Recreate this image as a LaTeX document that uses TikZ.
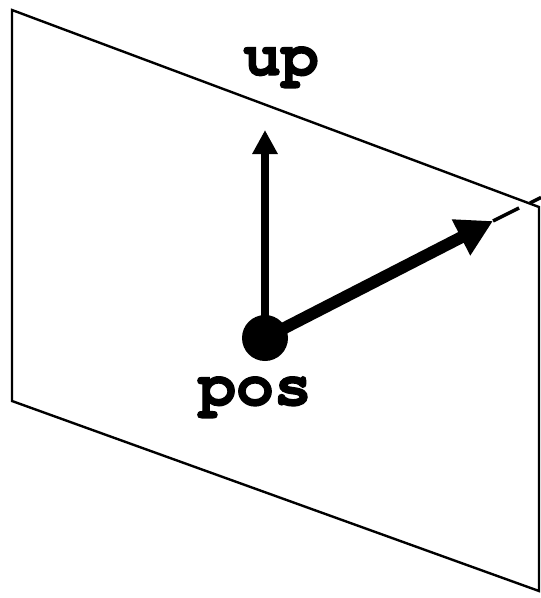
\documentclass[tikz,border=0pt]{standalone}
\usepackage{fontspec}
\newfontfamily\lblfont{texgyrecursor-bold.otf}[FakeBold=2]
\usetikzlibrary{arrows.meta, positioning}

\begin{document}
\begin{tikzpicture}[x=1pt, y=-1pt,
        plane/.style={draw=black, line width=2.4pt},
        dot/.style={circle, fill=black, minimum size=46pt, inner sep=0pt},
        lbl/.style={font=\fontsize{63}{63}\selectfont\lblfont, inner sep=0pt, anchor=base},
        uparr/.style={-{Triangle[length=24pt, width=24pt]}, line width=8pt},
        dirarr/.style={-{Triangle[length=36pt, width=38pt]}, line width=12pt},
        dirline/.style={line width=3.5pt}
    ]
        \useasboundingbox (0,0) rectangle (541,598);

        % PLANE
        \coordinate (tl) at (12,10);
        \coordinate (tr) at (539,207);
        \coordinate (br) at (539,591);
        \coordinate (bl) at (12,401);
        \draw[plane] (tl) -- (tr) -- (br) -- (bl) -- cycle;

        % POSITION
        \node[dot] (pos) at (265,338) {};
        \node[lbl] (poslbl) at (255,405) {pos};

        % UP VECTOR
        \coordinate (uptip) at (265,130);
        \draw[uparr] (pos.center) -- (uptip);
        \node[lbl] (uplbl) at (281,75) {up};

        % VIEW DIRECTION
        \coordinate (dirtip) at (493,221);
        \coordinate (dirend) at (519,208);
        \coordinate (dirin) at (530,203);
        \coordinate (dirout) at (541,197.5);
        \draw[dirarr] (pos.center) -- (dirtip);
        \draw[dirline] (dirtip) -- (dirend);
        \draw[dirline] (dirin) -- (dirout);
    \end{tikzpicture}
\end{document}
